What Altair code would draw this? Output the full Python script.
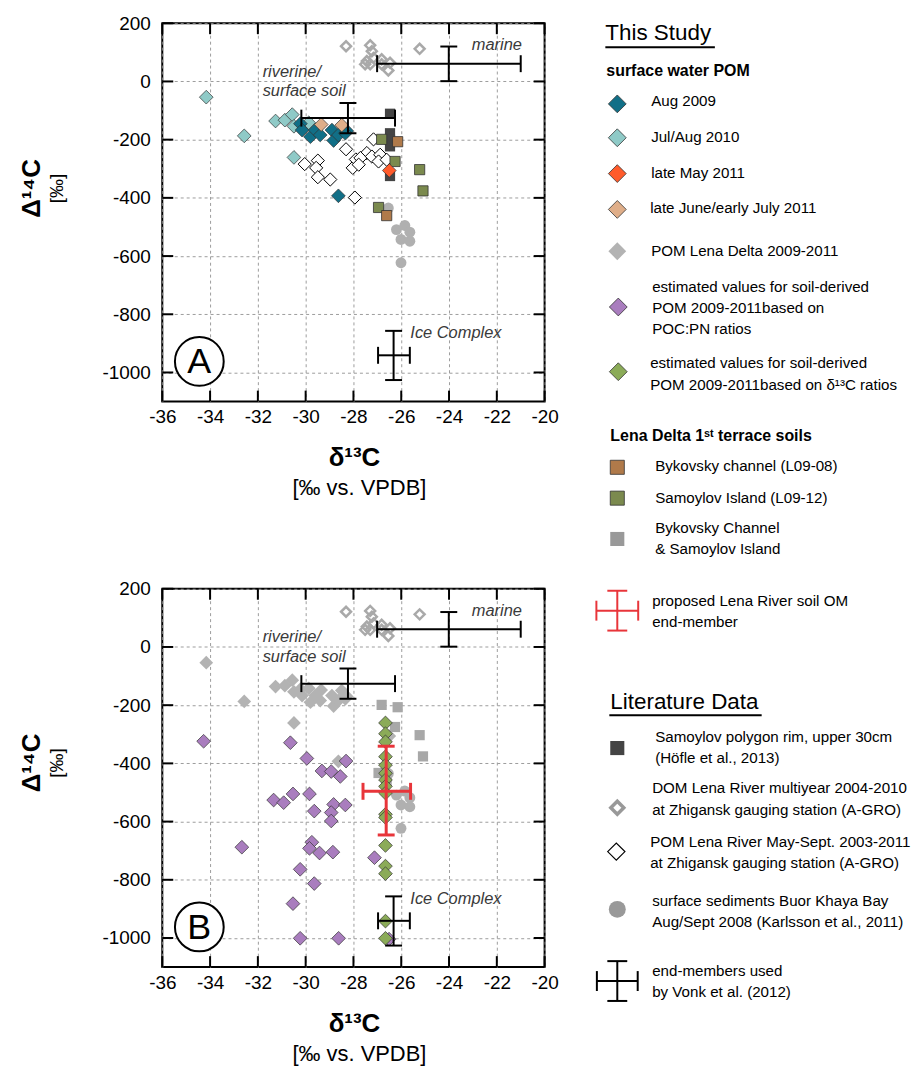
import altair as alt
import pandas as pd

FONT = "Liberation Sans"

# ---------------- values ----------------
x_ticks = [-36, -34, -32, -30, -28, -26, -24, -22, -20]
y_ticks = [-1000, -800, -600, -400, -200, 0, 200]

# surface water POM (this study)
aug2009_d13c = [-30.22, -30.15, -29.80, -29.60, -29.39, -28.90, -28.83, -28.63, -28.28, -28.34, -28.63]
aug2009_d14c = [-145, -167, -190, -167, -184, -167, -203, -184, -170, -178, -393]
jul2010_d13c = [-34.16, -32.57, -31.26, -30.87, -30.56, -30.49, -29.87, -30.49]
jul2010_d14c = [-54, -187, -136, -133, -114, -154, -142, -261]
may2011_d13c = [-26.50]
may2011_d14c = [-306]
jun2011_d13c = [-29.35, -28.49]
jun2011_d14c = [-148, -150]

# literature data
zhig_pom_d13c = [-28.31, -30.04, -29.49, -29.56, -29.49, -28.97, -28.03, -27.94, -27.90, -27.16,
                 -27.44, -27.71, -27.23, -26.88, -26.95, -26.61, -27.78]
zhig_pom_d14c = [-233, -284, -272, -297, -329, -337, -297, -399, -268, -199,
                 -246, -263, -258, -252, -275, -269, -286]
zhig_dom_d13c = [-28.31, -27.30, -27.23, -27.44, -27.51, -27.16, -27.30, -26.82, -26.47, -26.54, -26.82, -25.23]
zhig_dom_d14c = [121, 124, 104, 70, 59, 81, 59, 76, 64, 38, 59, 112]
hofle_d13c = [-26.47, -26.47, -26.47, -26.47, -26.47]
hofle_d14c = [-111, -178, -200, -223, -325]
sed_d13c = [-26.54, -26.20, -25.85, -25.64, -26.01, -25.64, -26.01]
sed_d14c = [-435, -509, -495, -518, -543, -549, -623]

# Lena Delta 1st terrace soils
byk_d13c = [-26.15, -26.61]
byk_d14c = [-207, -461]
sam_d13c = [-26.82, -26.26, -25.23, -25.09, -26.95]
sam_d14c = [-199, -275, -303, -376, -433]

# estimated soil-derived POM
est_cn_d13c = [-34.27, -30.64, -29.95, -28.31, -29.32, -28.93, -28.55, -31.34, -30.92, -30.53,
               -29.84, -28.83, -28.34, -29.64, -28.93, -28.93, -29.74, -29.84, -29.42, -28.86,
               -32.67, -30.23, -29.64, -30.53, -30.23, -28.62, -27.12, -26.51]
est_cn_d14c = [-324, -329, -383, -392, -426, -428, -445, -526, -535, -505,
               -505, -541, -543, -564, -569, -598, -671, -692, -708, -705,
               -688, -764, -813, -882, -1001, -1001, -724, -1004]
est_c13_d13c = [-26.66, -26.66, -26.66, -26.66, -26.66, -26.66, -26.66, -26.66,
                -26.66, -26.66, -26.66, -26.66, -26.66, -26.66, -26.66, -26.66]
est_c13_d14c = [-261, -298, -326, -377, -406, -434, -457, -479,
                -502, -575, -586, -682, -753, -779, -942, -1001]

# end-members (Vonk et al. 2012)
em_d13c = [-28.23, -24.01, -26.32]
em_d13c_lo = [-30.18, -27.01, -26.97]
em_d13c_hi = [-26.26, -21.00, -25.64]
em_d14c = [-126, 61, -941]
em_d14c_lo = [-178, 1, -1026]
em_d14c_hi = [-74, 120, -857]
# proposed Lena River soil OM end-member
soil_em_d13c = [-26.63]
soil_em_d13c_lo = [-27.60]
soil_em_d13c_hi = [-25.61]
soil_em_d14c = [-496]
soil_em_d14c_lo = [-646]
soil_em_d14c_hi = [-341]

# annotation texts
note_text = ["riverine/", "surface soil", "marine", "Ice Complex"]
note_d13c = [-31.8, -31.8, -23.05, -25.62]
note_d14c = [33, -33, 125, -865]

# legend texts
leg_head = ["This Study", "Literature Data"]
leg_sub = ["surface water POM", "Lena Delta 1\u02e2\u1d57 terrace soils"]
leg_labels = [
    "Aug 2009", "Jul/Aug 2010", "late May 2011", "late June/early July 2011",
    "POM Lena Delta 2009-2011",
    "estimated values for soil-derived", "POM 2009-2011based on", "POC:PN ratios",
    "estimated values for soil-derived", "POM 2009-2011based on \u03b4\u00b9\u00b3C ratios",
    "Bykovsky channel (L09-08)", "Samoylov Island (L09-12)",
    "Bykovsky Channel", "& Samoylov Island",
    "proposed Lena River soil OM", "end-member",
    "Samoylov polygon rim, upper 30cm", "(H\u00f6fle et al., 2013)",
    "DOM Lena River multiyear 2004-2010", "at Zhigansk gauging station (A-GRO)",
    "POM Lena River May-Sept. 2003-2011", "at Zhigansk gauging station (A-GRO)",
    "surface sediments Buor Khaya Bay", "Aug/Sept 2008 (Karlsson et al., 2011)",
    "end-members used", "by Vonk et al. (2012)",
]

# ---------------- styles / layout ----------------
C_AUG09 = "#116f87"
C_JUL10 = "#8fcac7"
C_MAY11 = "#ff5b2b"
C_JUN11 = "#dfae89"
C_GRAY = "#b3b3b3"
C_PURPLE = "#a97dbe"
C_GREEN = "#8bab58"
C_BYK = "#b07a4a"
C_SAM = "#7b8a4e"
C_SQGRAY = "#a8a8a8"
C_HOFLE = "#444444"
C_DOM = "#a9a9a9"
C_SED = "#b0b0b0"
C_RED = "#e8353a"
OUT = "#333333"

W, H = 384, 380
OX, OY = 162, 20  # screen position of panel A's plot origin

xs = alt.Scale(domain=[-36, -20], nice=False, zero=False)
ys = alt.Scale(domain=[-1100, 200], nice=False, zero=False)
axis_common = dict(grid=True, gridDash=[3, 3], gridColor="#9c9c9c", gridWidth=1,
                   ticks=False, domain=False, labelFontSize=19, labelFont=FONT,
                   labelColor="black", title=None, labelExpr="'' + datum.value",
                   labelFlush=False, labelOverlap=False)
xaxis = alt.Axis(values=x_ticks, labelPadding=6, **axis_common)
yaxis = alt.Axis(values=y_ticks, labelPadding=12, **axis_common)


def X(f="x"):
    return alt.X(f"{f}:Q", scale=xs, axis=xaxis)


def Y(f="y"):
    return alt.Y(f"{f}:Q", scale=ys, axis=yaxis)


def df(x, y):
    return pd.DataFrame({"x": x, "y": y})


def points(data, shape, size, fill=None, stroke=None, sw=1.0, filled=True):
    kw = dict(shape=shape, size=size, opacity=1, strokeWidth=sw, filled=filled)
    if fill is not None:
        kw["fill"] = fill
    if stroke is not None:
        kw["stroke"] = stroke
    return alt.Chart(data).mark_point(**kw).encode(x=X(), y=Y())


def frame_ticks():
    xt = pd.DataFrame({"v": x_ticks})
    yt = pd.DataFrame({"v": y_ticks})
    L = 11
    return [
        alt.Chart(xt).mark_rule(color="black", strokeWidth=2).encode(
            x=X("v"), y=alt.value(H), y2=alt.value(H - L)),
        alt.Chart(xt).mark_rule(color="black", strokeWidth=2).encode(
            x=X("v"), y=alt.value(0), y2=alt.value(L)),
        alt.Chart(yt).mark_rule(color="black", strokeWidth=2).encode(
            y=Y("v"), x=alt.value(0), x2=alt.value(L)),
        alt.Chart(yt).mark_rule(color="black", strokeWidth=2).encode(
            y=Y("v"), x=alt.value(W - L), x2=alt.value(W)),
    ]


def cross(d, color, sw, cap):
    base = alt.Chart(d)
    return [
        base.mark_rule(color=color, strokeWidth=sw).encode(x=X("xlo"), x2="xhi:Q", y=Y("y")),
        base.mark_rule(color=color, strokeWidth=sw).encode(x=X("x"), y=Y("ylo"), y2="yhi:Q"),
        base.mark_tick(orient="vertical", size=cap, thickness=sw, color=color, opacity=1).encode(x=X("xlo"), y=Y("y")),
        base.mark_tick(orient="vertical", size=cap, thickness=sw, color=color, opacity=1).encode(x=X("xhi"), y=Y("y")),
        base.mark_tick(orient="horizontal", size=cap, thickness=sw, color=color, opacity=1).encode(x=X("x"), y=Y("ylo")),
        base.mark_tick(orient="horizontal", size=cap, thickness=sw, color=color, opacity=1).encode(x=X("x"), y=Y("yhi")),
    ]


em_df = pd.DataFrame({"x": em_d13c, "xlo": em_d13c_lo, "xhi": em_d13c_hi,
                      "y": em_d14c, "ylo": em_d14c_lo, "yhi": em_d14c_hi})
soil_df = pd.DataFrame({"x": soil_em_d13c, "xlo": soil_em_d13c_lo, "xhi": soil_em_d13c_hi,
                        "y": soil_em_d14c, "ylo": soil_em_d14c_lo, "yhi": soil_em_d14c_hi})
notes_df = pd.DataFrame({"x": note_d13c, "y": note_d14c, "t": note_text})


def decorations(letter, ytitle_y):
    lab = pd.DataFrame({"x": [-34.45], "y": [-962], "t": [letter]})
    return [
        alt.Chart(notes_df).mark_text(align="left", baseline="middle", font=FONT, fontSize=16.5,
                                      fontStyle="italic", color="#3a3a3a").encode(x=X(), y=Y(), text="t:N"),
        alt.Chart(lab).mark_point(shape="circle", size=2400, filled=True, fill="white",
                                  stroke="black", strokeWidth=2, opacity=1).encode(x=X(), y=Y()),
        alt.Chart(lab).mark_text(baseline="middle", font=FONT, fontSize=36, color="black", dy=1).encode(
            x=X(), y=Y(), text="t:N"),
        alt.Chart(pd.DataFrame({"t": ["\u0394\u00b9\u2074C"]})).mark_text(
            angle=270, baseline="middle", font=FONT, fontSize=26, fontWeight="bold", color="black").encode(
            x=alt.value(-131), y=alt.value(ytitle_y), text="t:N"),
        alt.Chart(pd.DataFrame({"t": ["[\u2030]"]})).mark_text(
            angle=270, baseline="middle", font=FONT, fontSize=19, color="black").encode(
            x=alt.value(-106), y=alt.value(ytitle_y), text="t:N"),
        alt.Chart(pd.DataFrame({"t": ["\u03b4\u00b9\u00b3C"]})).mark_text(
            baseline="middle", font=FONT, fontSize=26, fontWeight="bold", color="black").encode(
            x=alt.value(W / 2 + 1), y=alt.value(H + 57), text="t:N"),
        alt.Chart(pd.DataFrame({"t": ["[\u2030 vs. VPDB]"]})).mark_text(
            baseline="middle", font=FONT, fontSize=22, color="black").encode(
            x=alt.value(W / 2 + 6), y=alt.value(H + 87), text="t:N"),
    ]


# ---------------- panel A ----------------
layers_a = frame_ticks() + [
    points(df(zhig_dom_d13c, zhig_dom_d14c), "diamond", 100, stroke=C_DOM, sw=2.5, filled=False),
    points(df(sed_d13c, sed_d14c), "circle", 120, fill=C_SED),
    points(df(zhig_pom_d13c, zhig_pom_d14c), "diamond", 175, fill="white", stroke="black", sw=1),
    points(df(hofle_d13c, hofle_d14c), "square", 105, fill=C_HOFLE),
    points(df(sam_d13c, sam_d14c), "square", 105, fill=C_SAM, stroke=OUT, sw=0.8),
    points(df(byk_d13c, byk_d14c), "square", 105, fill=C_BYK, stroke=OUT, sw=0.8),
    points(df(jul2010_d13c, jul2010_d14c), "diamond", 190, fill=C_JUL10, stroke=OUT, sw=0.7),
    points(df(aug2009_d13c, aug2009_d14c), "diamond", 190, fill=C_AUG09, stroke=OUT, sw=0.7),
    points(df(jun2011_d13c, jun2011_d14c), "diamond", 190, fill=C_JUN11, stroke=OUT, sw=0.7),
    points(df(may2011_d13c, may2011_d14c), "diamond", 190, fill=C_MAY11, stroke=OUT, sw=0.7),
] + cross(em_df, "black", 2, 17) + decorations("A", 166)

core_a = alt.layer(*layers_a)

# ---------------- legend (drawn in panel A's pixel space) ----------------
def ident(f):
    return alt.X(f"{f}:Q", scale=None)


def identy(f):
    return alt.Y(f"{f}:Q", scale=None)


head_pos = [(607, 30), (612, 702)]
under_pos = [(607, 717, 44), (611, 764, 715)]
sub_pos = [(608, 68), (612, 435)]
label_pos = [(653, 98), (653, 134), (653, 170), (652, 206), (653, 249),
             (654, 285), (654, 306), (654, 327), (652, 361), (652, 383),
             (657, 465), (657, 497), (657, 527), (657, 548),
             (654, 600), (654, 621),
             (657, 737), (657, 758), (654, 788), (654, 810),
             (652, 842), (652, 863), (654, 902), (654, 923),
             (654, 972), (654, 993)]


def leg_text_df(texts, pos):
    return pd.DataFrame({"lx": [p[0] - OX for p in pos], "ly": [p[1] - OY for p in pos], "t": texts})


def sym(x, y, shape, size, **kw):
    d = pd.DataFrame({"lx": [x - OX], "ly": [y - OY]})
    return alt.Chart(d).mark_point(shape=shape, size=size, opacity=1, **kw).encode(
        x=ident("lx"), y=identy("ly"))


def leg_cross(cx, cy, hx, hy, cap, color, sw):
    segs = [(cx - hx, cy, cx + hx, cy), (cx, cy - hy, cx, cy + hy),
            (cx - hx, cy - cap, cx - hx, cy + cap), (cx + hx, cy - cap, cx + hx, cy + cap),
            (cx - cap, cy - hy, cx + cap, cy - hy), (cx - cap, cy + hy, cx + cap, cy + hy)]
    d = pd.DataFrame({"a": [s[0] - OX for s in segs], "b": [s[1] - OY for s in segs],
                      "c": [s[2] - OX for s in segs], "e": [s[3] - OY for s in segs]})
    return alt.Chart(d).mark_rule(color=color, strokeWidth=sw).encode(
        x=ident("a"), y=identy("b"), x2="c:Q", y2="e:Q")


under_df = pd.DataFrame({"a": [u[0] - OX for u in under_pos], "c": [u[1] - OX for u in under_pos],
                         "b": [u[2] - OY for u in under_pos]})

legend_layers = [
    alt.Chart(leg_text_df(leg_head, head_pos)).mark_text(
        align="left", baseline="middle", font=FONT, fontSize=22.5, color="black").encode(
        x=ident("lx"), y=identy("ly"), text="t:N"),
    alt.Chart(under_df).mark_rule(color="black", strokeWidth=2).encode(
        x=ident("a"), x2="c:Q", y=identy("b")),
    alt.Chart(leg_text_df(leg_sub, sub_pos)).mark_text(
        align="left", baseline="middle", font=FONT, fontSize=16, fontWeight="bold", color="black").encode(
        x=ident("lx"), y=identy("ly"), text="t:N"),
    alt.Chart(leg_text_df(leg_labels, label_pos)).mark_text(
        align="left", baseline="middle", font=FONT, fontSize=15.2, color="black").encode(
        x=ident("lx"), y=identy("ly"), text="t:N"),
    sym(619, 101, "diamond", 320, filled=True, fill=C_AUG09, stroke=OUT, strokeWidth=0.8),
    sym(619, 135, "diamond", 320, filled=True, fill=C_JUL10, stroke=OUT, strokeWidth=0.8),
    sym(619, 171, "diamond", 320, filled=True, fill=C_MAY11, stroke=OUT, strokeWidth=0.8),
    sym(619, 207, "diamond", 320, filled=True, fill=C_JUN11, stroke=OUT, strokeWidth=0.8),
    sym(619, 249, "diamond", 320, filled=True, fill=C_GRAY),
    sym(620, 305, "diamond", 320, filled=True, fill=C_PURPLE, stroke=OUT, strokeWidth=0.8),
    sym(620, 370, "diamond", 320, filled=True, fill=C_GREEN, stroke=OUT, strokeWidth=0.8),
    sym(619, 466, "square", 200, filled=True, fill=C_BYK, stroke=OUT, strokeWidth=0.8),
    sym(619, 497, "square", 200, filled=True, fill=C_SAM, stroke=OUT, strokeWidth=0.8),
    sym(619, 538, "square", 200, filled=True, fill="#999999"),
    leg_cross(619, 610, 21, 20, 10, C_RED, 2),
    sym(619, 748, "square", 200, filled=True, fill=C_HOFLE),
    sym(619, 808, "diamond", 170, filled=False, stroke="#999999", strokeWidth=3.5),
    sym(618, 852, "diamond", 300, filled=True, fill="white", stroke="black", strokeWidth=1.2),
    sym(619, 910, "circle", 290, filled=True, fill="#999999"),
    leg_cross(619, 982, 20.5, 20, 10, "black", 2),
]
anchor = alt.Chart(pd.DataFrame({"t": [0]})).mark_rule(strokeOpacity=0, strokeWidth=1).encode(
    x=alt.value(-OX), y=alt.value(-OY), y2=alt.value(-OY + 1))

panel_a = alt.layer(core_a, alt.layer(*legend_layers, anchor)).resolve_scale(
    x="independent", y="independent").properties(width=W, height=H)

# ---------------- panel B ----------------
pom_all_d13c = aug2009_d13c + jul2010_d13c + may2011_d13c + jun2011_d13c
pom_all_d14c = aug2009_d14c + jul2010_d14c + may2011_d14c + jun2011_d14c
soil_all_d13c = byk_d13c + sam_d13c
soil_all_d14c = byk_d14c + sam_d14c

layers_b = frame_ticks() + [
    points(df(pom_all_d13c, pom_all_d14c), "diamond", 190, fill=C_GRAY),
    points(df(zhig_dom_d13c, zhig_dom_d14c), "diamond", 100, stroke=C_DOM, sw=2.5, filled=False),
    points(df(soil_all_d13c, soil_all_d14c), "square", 105, fill=C_SQGRAY),
    points(df(sed_d13c, sed_d14c), "circle", 120, fill=C_SED),
    points(df(est_cn_d13c, est_cn_d14c), "diamond", 190, fill=C_PURPLE, stroke=OUT, sw=0.7),
    points(df(est_c13_d13c, est_c13_d14c), "diamond", 190, fill=C_GREEN, stroke=OUT, sw=0.7),
] + cross(soil_df, C_RED, 3, 17) + cross(em_df, "black", 2, 17) + decorations("B", 175)

panel_b = alt.layer(*layers_b).properties(width=W, height=H)

chart = alt.vconcat(panel_a, panel_b, spacing=188, bounds="flush").properties(
    padding=0, background="white"
).configure_view(stroke="black", strokeWidth=2).configure_text(font=FONT)

chart.save("out.html", embed_options={"renderer": "svg", "actions": False})
